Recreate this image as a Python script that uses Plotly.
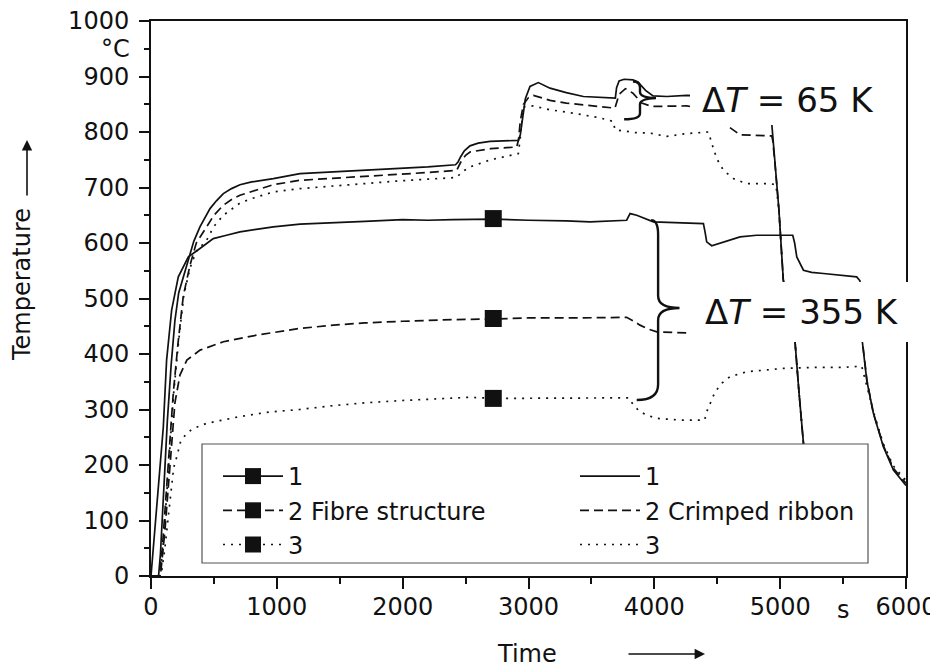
import plotly.graph_objects as go

# ---------------- data ----------------
# Fibre structure, thermocouple 1 (solid, with marker)
fib1_t = [0, 18, 58, 98, 124, 164, 217, 297, 389, 495, 600, 707, 850, 972, 1184, 1450, 1700, 2000,
          2200, 2400, 2720, 3000, 3300, 3489, 3780, 3807, 3860, 3992, 4200, 4390, 4403, 4416, 4456,
          4549, 4681, 4813, 5000, 5100, 5115, 5132, 5185, 5250, 5344, 5476, 5608, 5634, 5645, 5653,
          5688, 5741, 5820, 5900, 6000]
fib1_T = [0, 47, 149, 269, 389, 479, 539, 575, 590, 608, 614, 620, 625, 629, 634, 636, 639, 642,
          641, 642, 643, 641, 640, 638, 641, 653, 650, 638, 636, 635, 620, 602, 595,
          602, 611, 614, 614, 614, 600, 575, 551, 547, 545, 542, 539, 532, 480, 422,
          353, 293, 233, 191, 163]
# Fibre structure, thermocouple 2 (dashed, with marker)
fib2_t = [0, 75, 110, 150, 190, 230, 285, 390, 575, 840, 1180, 1450, 1700, 2000, 2400, 2720, 3000,
          3400, 3780, 3830, 3886, 3950, 4020, 4257, 4600, 5000, 5640, 5660, 5690, 5740, 5820, 5900, 6000]
fib2_T = [0, 0, 80, 205, 312, 362, 389, 407, 422, 434, 446, 452, 456, 459, 462, 463, 465,
          465, 466, 460, 452, 445, 440, 438, 437, 436, 435, 410, 352, 294, 235, 194, 167]
# Fibre structure, thermocouple 3 (dotted, with marker)
fib3_t = [0, 80, 110, 130, 155, 180, 205, 235, 280, 330, 440, 700, 920, 1180, 1450, 1700, 1980,
          2300, 2535, 2720, 3000, 3400, 3800, 3833, 3886, 3950, 4020, 4200, 4400, 4416, 4450, 4483,
          4540, 4600, 4734, 4900, 5025, 5300, 5500, 5648, 5680, 5741, 5820, 5900, 6000]
fib3_T = [0, 0, 50, 95, 150, 195, 215, 242, 256, 265, 275, 287, 295, 300, 307, 312, 316,
          320, 322, 320, 320, 321, 321, 308, 296, 289, 284, 281, 281, 296, 315, 332,
          348, 359, 368, 372, 374, 376, 376, 378, 350, 296, 238, 198, 172]

# Crimped ribbon, thermocouple 1 (solid)
crm1_t = [0, 60, 75, 100, 130, 160, 190, 220, 257, 300, 340, 389, 430, 469, 520, 575, 640, 707, 800,
          972, 1184, 1450, 1700, 1980, 2200, 2420, 2440, 2460, 2490, 2535, 2600, 2694, 2800, 2920,
          2935, 2950, 2975, 3012, 3078, 3171, 3300, 3436, 3560, 3690, 3700, 3720, 3760, 3830, 3870,
          3930, 3990, 4100, 4257, 4500, 4700, 4925, 4935, 4960, 4990, 5025, 5118, 5150, 5185, 5230, 5300]
crm1_T = [0, 0, 40, 150, 280, 380, 460, 510, 540, 575, 603, 629, 647, 662, 676, 689, 698, 705, 710,
          716, 725, 728, 731, 734, 737, 741, 746, 755, 766, 775, 780, 783, 784, 785,
          795, 820, 860, 882, 889, 879, 871, 864, 862, 861, 880, 892, 895, 894, 890,
          875, 865, 864, 866, 865, 864, 862, 810, 740, 660, 533, 422, 330, 239, 150, 60]
# Crimped ribbon, thermocouple 2 (dashed)
crm2_t = [0, 65, 90, 120, 150, 177, 215, 257, 310, 360, 442, 500, 575, 650, 707, 800, 972, 1184,
          1450, 1700, 1980, 2200, 2430, 2460, 2500, 2535, 2700, 2906, 2920, 2935, 2960, 3000, 3039,
          3100, 3171, 3300, 3436, 3687, 3720, 3770, 3830, 3900, 3980, 4257, 4450, 4500, 4575, 4681,
          4933, 4941, 4960, 4990, 5025, 5118, 5150, 5185, 5230, 5300]
crm2_T = [0, 0, 50, 150, 240, 329, 420, 505, 560, 600, 629, 650, 668, 680, 686, 693, 705, 713,
          717, 721, 724, 727, 731, 745, 758, 764, 770, 773, 785, 820, 850, 862, 866,
          862, 857, 852, 849, 843, 868, 878, 870, 852, 846, 847, 840, 830, 812, 795,
          793, 785, 740, 660, 533, 422, 330, 239, 150, 60]
# Crimped ribbon, thermocouple 3 (dotted)
crm3_t = [0, 70, 95, 125, 155, 180, 218, 260, 310, 360, 442, 500, 575, 707, 800, 972, 1184, 1450,
          1700, 1980, 2200, 2430, 2470, 2535, 2700, 2919, 2935, 2959, 3036, 3171, 3300, 3436, 3560,
          3674, 3687, 3750, 3850, 3966, 4098, 4250, 4416, 4430, 4456, 4496, 4549, 4628, 4734, 4919,
          4966, 4990, 5025, 5118, 5150, 5185, 5230, 5300]
crm3_T = [0, 0, 50, 150, 240, 329, 420, 505, 555, 585, 605, 630, 650, 672, 680, 692, 698, 703,
          708, 712, 715, 718, 728, 737, 750, 761, 790, 845, 847, 840, 836, 831, 826,
          819, 804, 802, 799, 798, 792, 797, 801, 800, 780, 752, 731, 716, 707, 707,
          705, 660, 533, 422, 330, 239, 150, 60]

# single square markers on the fibre-structure curves
marker_time = [2720]
fib1_mark = [644]
fib2_mark = [464]
fib3_mark = [320]

x_ticks = [0, 1000, 2000, 3000, 4000, 5000, 6000]
y_ticks = [0, 100, 200, 300, 400, 500, 600, 700, 800, 900, 1000]

fib_names = ["1", "2 Fibre structure", "3"]
crm_names = ["1", "2 Crimped ribbon", "3"]

# ---------------- style ----------------
FONT = "DejaVu Sans, Verdana, sans-serif"
INK = "#111111"
SOLID, DASH, DOT = "solid", "9px,5px", "2px,6px"
LW = 1.7
FS = 24

# the page adds an 8 px body margin; the plot area sits at page x 151..906, y 21..576
PAGE_OFF = 8
PL, PT, PW, PH = 151, 21, 755, 555


def ln(dash):
    return dict(color=INK, width=LW, dash=dash)


def px2paper_x(px):
    return (px - PL) / float(PW)


def px2paper_y(py):
    return (PT + PH - py) / float(PH)


fig = go.Figure()

fib_data = [(fib1_t, fib1_T, fib1_mark), (fib2_t, fib2_T, fib2_mark), (fib3_t, fib3_T, fib3_mark)]
crm_data = [(crm1_t, crm1_T), (crm2_t, crm2_T), (crm3_t, crm3_T)]
dashes = [SOLID, DASH, DOT]

for i in range(3):
    t, T, m = fib_data[i]
    fig.add_trace(go.Scatter(x=t, y=T, mode="lines", line=ln(dashes[i]), showlegend=False,
                             hoverinfo="skip"))
    fig.add_trace(go.Scatter(x=marker_time, y=m, mode="markers", showlegend=False,
                             marker=dict(symbol="square", size=17, color=INK)))
    # legend entry (left column)
    fig.add_trace(go.Scatter(x=[None], y=[None], mode="lines+markers", name=fib_names[i],
                             legend="legend", line=ln(dashes[i]),
                             marker=dict(symbol="square", size=16, color=INK)))
for i in range(3):
    t, T = crm_data[i]
    fig.add_trace(go.Scatter(x=t, y=T, mode="lines", name=crm_names[i], legend="legend2",
                             line=ln(dashes[i]), hoverinfo="skip"))

# legend frame (white, hides the curves underneath)
fig.add_shape(type="rect", xref="paper", yref="paper", layer="above",
              x0=px2paper_x(202), x1=px2paper_x(868), y0=px2paper_y(563), y1=px2paper_y(444),
              fillcolor="white", line=dict(width=1.2, color="#555555"))

# white boxes behind the delta-T labels (they hide the curves underneath)
fig.add_shape(type="rect", xref="paper", yref="paper", layer="above",
              x0=px2paper_x(690), x1=px2paper_x(885), y0=px2paper_y(125), y1=px2paper_y(75),
              fillcolor="white", line=dict(width=0))
fig.add_shape(type="rect", xref="paper", yref="paper", layer="above",
              x0=px2paper_x(687), x1=px2paper_x(940), y0=px2paper_y(342), y1=px2paper_y(282),
              fillcolor="white", line=dict(width=0))

# curly braces
brace65 = "M 3830,891 Q 3886,891 3886,880 L 3886,872 Q 3886,862 4013,861 Q 3886,860 3886,850 L 3886,834 Q 3886,823 3760,823"
brace355 = "M 3975,641 Q 4030,641 4030,615 L 4030,505 Q 4030,483 4200,483 Q 4030,483 4030,461 L 4030,345 Q 4030,317 3860,317"
for p in (brace65, brace355):
    fig.add_shape(type="path", xref="x", yref="y", path=p, line=dict(color=INK, width=2.4), layer="above")

ann = []
ann.append(dict(x=4363, y=858, xref="x", yref="y", text="Δ<i>T</i> = 65 K", showarrow=False,
                xanchor="left", yanchor="middle", font=dict(size=34, color=INK, family=FONT)))
ann.append(dict(x=4387, y=476, xref="x", yref="y", text="Δ<i>T</i> = 355 K", showarrow=False,
                xanchor="left", yanchor="middle", font=dict(size=34, color=INK, family=FONT)))
# units
ann.append(dict(x=0, y=950, xref="x", yref="y", text="°C", showarrow=False, xanchor="right",
                yanchor="middle", xshift=-19, font=dict(size=FS, color=INK, family=FONT)))
ann.append(dict(x=5500, y=0, xref="x", yref="paper", text="s", showarrow=False, xanchor="center",
                yanchor="top", yshift=-18, font=dict(size=FS, color=INK, family=FONT)))
# axis titles with arrows
ann.append(dict(x=px2paper_x(22), y=px2paper_y(285), xref="paper", yref="paper", text="Temperature",
                xanchor="center", yanchor="middle",
                showarrow=False, textangle=-90, font=dict(size=FS, color=INK, family=FONT)))
ann.append(dict(x=px2paper_x(27), y=px2paper_y(140), xref="paper", yref="paper", text="",
                showarrow=True, ax=0, ay=57, arrowhead=2, arrowsize=1.3, arrowwidth=1.6, arrowcolor=INK))
ann.append(dict(x=px2paper_x(527), y=px2paper_y(654), xref="paper", yref="paper", text="Time",
                xanchor="center", yanchor="middle",
                showarrow=False, font=dict(size=FS, color=INK, family=FONT)))
ann.append(dict(x=px2paper_x(705), y=px2paper_y(654), xref="paper", yref="paper", text="",
                showarrow=True, ax=-78, ay=0, arrowhead=2, arrowsize=1.3, arrowwidth=1.6, arrowcolor=INK))

leg_common = dict(orientation="v", xanchor="left", yanchor="top", bgcolor="rgba(0,0,0,0)",
                  borderwidth=0, font=dict(size=FS, family=FONT, color=INK), itemwidth=60,
                  tracegroupgap=0, itemclick=False, itemdoubleclick=False, traceorder="normal")

fig.update_layout(
    width=938 - PAGE_OFF, height=668 - PAGE_OFF,
    margin=dict(l=PL - PAGE_OFF, r=938 - PL - PW, t=PT - PAGE_OFF, b=668 - PT - PH, autoexpand=False),
    paper_bgcolor="white", plot_bgcolor="white",
    font=dict(family=FONT, size=FS, color=INK),
    annotations=ann,
    legend=dict(x=px2paper_x(218), y=px2paper_y(454), **leg_common),
    legend2=dict(x=px2paper_x(575), y=px2paper_y(454), **leg_common),
    xaxis=dict(range=[0, 6000], tickvals=x_ticks, ticks="outside", ticklen=11, tickwidth=1.6,
               tickcolor=INK, showline=True, linewidth=2, linecolor=INK, mirror=True,
               showgrid=False, zeroline=False, tickfont=dict(size=FS), ticklabelstandoff=-3,
               automargin=False, ticklabeloverflow="allow",
               minor=dict(ticks="outside", dtick=500, tick0=0, ticklen=6, tickwidth=1.6, tickcolor=INK)),
    yaxis=dict(range=[0, 1000], tickvals=y_ticks, ticks="outside", ticklen=10, tickwidth=1.6,
               tickcolor=INK, showline=True, linewidth=2, linecolor=INK, mirror=True,
               showgrid=False, zeroline=False, tickfont=dict(size=FS), ticklabelstandoff=5,
               automargin=False, ticklabeloverflow="allow",
               minor=dict(ticks="outside", dtick=50, tick0=0, ticklen=5, tickwidth=1.6, tickcolor=INK)),
)

fig.write_html("out.html")
